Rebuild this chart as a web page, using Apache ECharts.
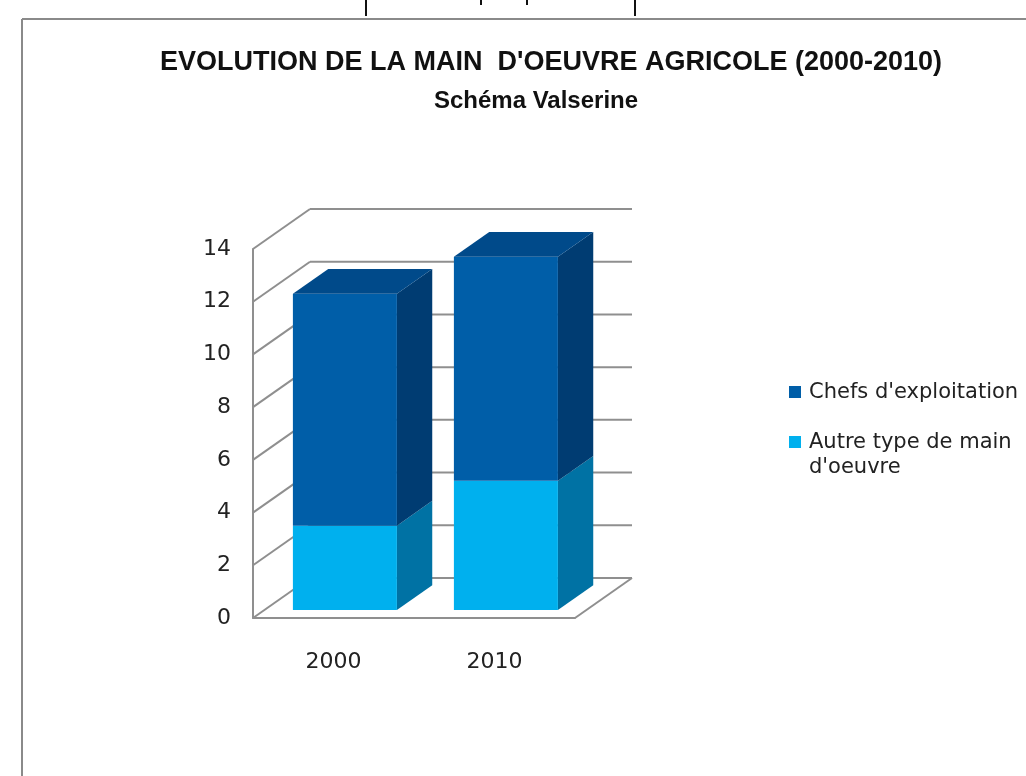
<!DOCTYPE html>
<html><head><meta charset="utf-8">
<script src="https://cdn.jsdelivr.net/npm/echarts@6/dist/echarts.min.js"></script>
<style>html,body{margin:0;padding:0;background:#fff}#c{width:1026px;height:776px}</style>
</head><body><div id="c"></div>
<script>
// ---- data ----
const categories = ['2000', '2010'];
const autreMainOeuvre = [3.2, 4.9];
const chefsExploitation = [8.8, 8.5];
const yTicks = [0, 2, 4, 6, 8, 10, 12, 14];
const seriesNames = ["Chefs d'exploitation", "Autre type de main d'oeuvre"];
const titleText = "EVOLUTION DE LA MAIN  D'OEUVRE AGRICOLE (2000-2010)";
const subtitleText = "Schéma Valserine";

// ---- style ----
const DX = 57, DY = -40;          // depth of walls in px (oblique projection)
const BAR_T0 = 0.2, BAR_T1 = 0.82; // bar depth range (fraction of wall depth)
const BAR_W = 0.646;              // bar width as fraction of band
const GRID_COLOR = '#8f8f8f';
const colors = {
  chefs: { front: '#005EA8', top: '#004A8A', side: '#003C72' },
  autre: { front: '#00B0EE', top: '#0090C8', side: '#0072A4' }
};

const chart = echarts.init(document.getElementById('c'), null, { renderer: 'canvas' });

function wallItem(params, api) {
  const v = api.value(1);
  const p = api.coord([0, v]);
  const band = api.size([1, 0])[0];
  const left = p[0] - band / 2;
  const right = left + band * categories.length;
  const y = p[1];
  const st = { stroke: GRID_COLOR, lineWidth: 2, fill: null };
  const children = [
    { type: 'line', shape: { x1: left, y1: y, x2: left + DX, y2: y + DY }, style: st },
    { type: 'line', shape: { x1: left + DX, y1: y + DY, x2: right + DX, y2: y + DY }, style: st }
  ];
  if (v === 0) {
    children.push({ type: 'line', shape: { x1: right, y1: y, x2: right + DX, y2: y + DY }, style: st });
  }
  return { type: 'group', children };
}

function barItemFactory(c, isTop) {
  return function (params, api) {
    const ci = api.value(0), lo = api.value(1), hi = api.value(2);
    const pLo = api.coord([ci, lo]);
    const pHi = api.coord([ci, hi]);
    const band = api.size([1, 0])[0];
    const w = band * BAR_W;
    const ox = BAR_T0 * DX, oy = BAR_T0 * DY;
    const x0 = pLo[0] - w / 2 + ox, x1 = x0 + w;
    const yLo = pLo[1] + oy, yHi = pHi[1] + oy;
    const ddx = (BAR_T1 - BAR_T0) * DX, ddy = (BAR_T1 - BAR_T0) * DY;
    const children = [
      { type: 'polygon', shape: { points: [[x1, yLo], [x1 + ddx, yLo + ddy], [x1 + ddx, yHi + ddy], [x1, yHi]] },
        style: { fill: c.side } },
      { type: 'rect', shape: { x: x0, y: yHi, width: w, height: yLo - yHi }, style: { fill: c.front } }
    ];
    if (isTop) {
      children.push({ type: 'polygon', shape: { points: [[x0, yHi], [x1, yHi], [x1 + ddx, yHi + ddy], [x0 + ddx, yHi + ddy]] },
        style: { fill: c.top } });
    }
    return { type: 'group', children };
  };
}

const autreData = categories.map((_, i) => [i, 0, autreMainOeuvre[i]]);
const chefsData = categories.map((_, i) => [i, autreMainOeuvre[i], autreMainOeuvre[i] + chefsExploitation[i]]);

const txtFont = 'DejaVu Sans';

chart.setOption({
  backgroundColor: '#ffffff',
  animation: false,
  title: [
    { text: titleText, left: 546, top: 44, textAlign: 'center',
      textStyle: { fontFamily: 'Liberation Sans', fontWeight: 'bold', fontSize: 27, color: '#111' } },
    { text: subtitleText, left: 531, top: 84, textAlign: 'center',
      textStyle: { fontFamily: 'Liberation Sans', fontWeight: 'bold', fontSize: 24, color: '#111' } }
  ],
  grid: { left: 253, right: 451, top: 249, bottom: 158 },
  xAxis: {
    type: 'category', data: categories,
    axisLine: { show: true, lineStyle: { color: GRID_COLOR, width: 2 } },
    axisTick: { show: false },
    axisLabel: { margin: 33, fontFamily: txtFont, fontSize: 22, color: '#222' },
    splitLine: { show: false }
  },
  yAxis: {
    type: 'value', min: 0, max: 14, interval: 2,
    axisLine: { show: true, lineStyle: { color: GRID_COLOR, width: 2 } },
    axisTick: { show: false },
    axisLabel: { margin: 22, fontFamily: txtFont, fontSize: 22, color: '#222' },
    splitLine: { show: false }
  },
  series: [
    { type: 'custom', name: 'walls', data: yTicks.map(v => [0, v]), encode: { x: 0, y: 1 },
      renderItem: wallItem, silent: true, z: 1 },
    { type: 'custom', name: seriesNames[1], data: autreData, encode: { x: 0, y: [1, 2] },
      renderItem: barItemFactory(colors.autre, false), itemStyle: { color: colors.autre.front }, z: 2 },
    { type: 'custom', name: seriesNames[0], data: chefsData, encode: { x: 0, y: [1, 2] },
      renderItem: barItemFactory(colors.chefs, true), itemStyle: { color: colors.chefs.front }, z: 3 }
  ],
  graphic: [
    // chart frame
    { type: 'line', shape: { x1: 22, y1: 19, x2: 1026, y2: 19 }, style: { stroke: '#8a8a8a', lineWidth: 2 } },
    { type: 'line', shape: { x1: 22, y1: 19, x2: 22, y2: 776 }, style: { stroke: '#8a8a8a', lineWidth: 2 } },
    // spreadsheet cell borders above the chart
    { type: 'line', shape: { x1: 366, y1: 0, x2: 366, y2: 16 }, style: { stroke: '#111', lineWidth: 2 } },
    { type: 'line', shape: { x1: 481, y1: 0, x2: 481, y2: 5 }, style: { stroke: '#111', lineWidth: 2 } },
    { type: 'line', shape: { x1: 527, y1: 0, x2: 527, y2: 5 }, style: { stroke: '#111', lineWidth: 2 } },
    { type: 'line', shape: { x1: 635, y1: 0, x2: 635, y2: 16 }, style: { stroke: '#111', lineWidth: 2 } },
    // legend
    { type: 'rect', shape: { x: 789, y: 386, width: 12, height: 12 }, style: { fill: colors.chefs.front } },
    { type: 'text', x: 809, y: 393, style: { text: seriesNames[0], font: '21px ' + txtFont, fill: '#222', verticalAlign: 'middle' } },
    { type: 'rect', shape: { x: 789, y: 436, width: 12, height: 12 }, style: { fill: colors.autre.front } },
    { type: 'text', x: 809, y: 443, style: { text: 'Autre type de main', font: '21px ' + txtFont, fill: '#222', verticalAlign: 'middle' } },
    { type: 'text', x: 809, y: 468, style: { text: "d'oeuvre", font: '21px ' + txtFont, fill: '#222', verticalAlign: 'middle' } }
  ]
});
</script>
</body></html>
